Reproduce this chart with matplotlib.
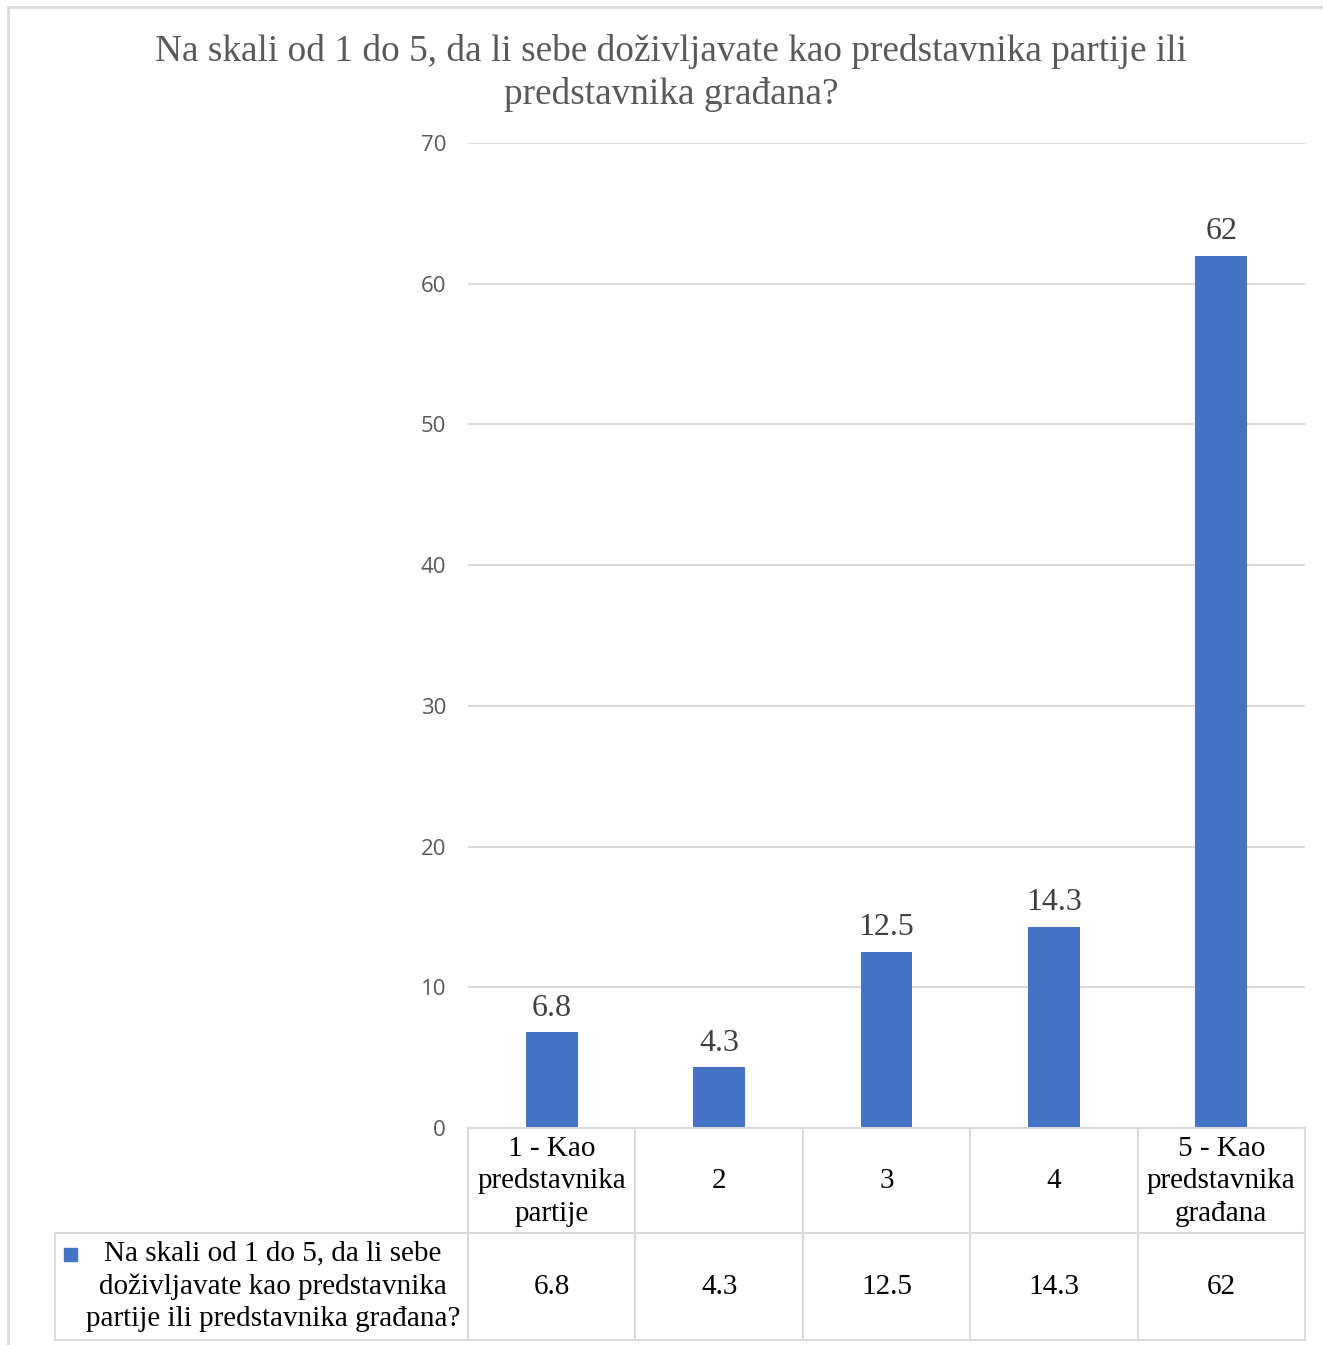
import matplotlib
matplotlib.use("Agg")
import matplotlib.pyplot as plt
import matplotlib.transforms as mtransforms
from matplotlib.lines import Line2D
from matplotlib.patches import Rectangle

title = "Na skali od 1 do 5, da li sebe doživljavate kao predstavnika partije ili\npredstavnika građana?"
categories = ["1 - Kao\npredstavnika\npartije", "2", "3", "4", "5 - Kao\npredstavnika\ngrađana"]
values = [6.8, 4.3, 12.5, 14.3, 62]
value_labels = ["6.8", "4.3", "12.5", "14.3", "62"]
series_name = "Na skali od 1 do 5, da li sebe\ndoživljavate kao predstavnika\npartije ili predstavnika građana?"
yticks = [0, 10, 20, 30, 40, 50, 60, 70]

W, H = 1323, 1345
fig = plt.figure(figsize=(W / 100, H / 100), dpi=100)

def fx(px):
    return px / W

def fy(py):
    return 1 - py / H

SERIF = ["Liberation Serif", "DejaVu Serif"]
SANS = ["Open Sans", "DejaVu Sans"]
BAR = "#4472C4"
GRID = "#D9D9D9"

# outer chart border
fig.patches.append(Rectangle((fx(8), fy(1360)), fx(1330) - fx(8), fy(7) - fy(1360),
                             transform=fig.transFigure, fill=False, edgecolor="#D9D9D9", linewidth=2))

L, R, T, B = 468, 1305, 143, 1128
ax = fig.add_axes([fx(L), fy(B), fx(R) - fx(L), fy(T) - fy(B)])
ax.set_xlim(-0.5, len(values) - 0.5)
ax.set_ylim(0, 70)
x = list(range(len(values)))
ax.bar(x, values, width=0.31, color=BAR, zorder=3)
for s in ax.spines.values():
    s.set_visible(False)
ax.set_yticks(yticks)
ax.set_yticklabels([str(t) for t in yticks], fontfamily=SANS, fontsize=16, color="#595959")
ax.tick_params(axis="y", length=0, pad=15.8)
ax.set_xticks([])
ax.grid(axis="y", color=GRID, linewidth=1.5, zorder=0)

for xi, v, lab in zip(x, values, value_labels):
    ax.annotate(lab, (xi, v), xytext=(0, 7), textcoords="offset points",
                ha="center", va="bottom", fontfamily=SERIF, fontsize=23, color="#404040")

fig.text(fx(671), fy(73), title, ha="center", va="center", fontfamily=SERIF, fontsize=26.8,
         color="#595959", linespacing=1.3)

# data table
blend = mtransforms.blended_transform_factory(ax.transData, fig.transFigure)
r0, r1, r2 = 1128, 1233, 1340
line_kw = dict(color=GRID, linewidth=1.5)
fig.add_artist(Line2D([fx(L), fx(R)], [fy(r0), fy(r0)], transform=fig.transFigure, **line_kw))
fig.add_artist(Line2D([fx(55), fx(R)], [fy(r1), fy(r1)], transform=fig.transFigure, **line_kw))
fig.add_artist(Line2D([fx(55), fx(R)], [fy(r2), fy(r2)], transform=fig.transFigure, **line_kw))
fig.add_artist(Line2D([fx(55), fx(55)], [fy(r1), fy(r2)], transform=fig.transFigure, **line_kw))
for xb in [i - 0.5 for i in range(len(values) + 1)]:
    fig.add_artist(Line2D([xb, xb], [fy(r0), fy(r2)], transform=blend, **line_kw))

for xi, cat, lab in zip(x, categories, value_labels):
    fig.text(xi, fy((r0 + r1) / 2 + 1), cat, transform=blend, ha="center", va="center",
             fontfamily=SERIF, fontsize=21, color="black", linespacing=1.32)
    fig.text(xi, fy((r1 + r2) / 2), lab, transform=blend, ha="center", va="center",
             fontfamily=SERIF, fontsize=21, color="black")

fig.patches.append(Rectangle((fx(64), fy(1261)), fx(13), fy(1248) - fy(1261),
                             transform=fig.transFigure, color=BAR))
fig.text(fx(273), fy((r1 + r2) / 2), series_name, ha="center", va="center",
         fontfamily=SERIF, fontsize=21, color="black", linespacing=1.32)

fig.savefig("out.png", dpi=100)
